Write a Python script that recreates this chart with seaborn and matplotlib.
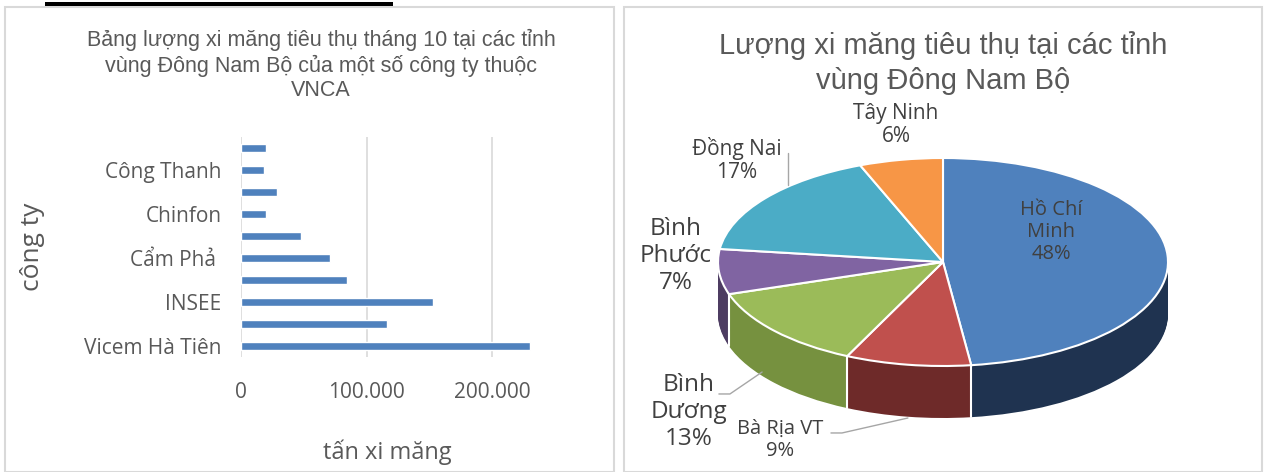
import numpy as np
import matplotlib
matplotlib.use("Agg")
import matplotlib.pyplot as plt
import seaborn as sns
from matplotlib.patches import Rectangle
from matplotlib.ticker import FuncFormatter

# bar chart data (top -> bottom); only every other name is shown on the axis
companies = ["Thăng Long", "Công Thanh", "Bỉm Sơn", "Chinfon", "Hạ Long",
             "Cẩm Phả ", "Fico Tây Ninh", "INSEE", "Nghi Sơn", "Vicem Hà Tiên"]
tons = [20000, 18000, 29000, 20000, 48000, 71000, 84000, 153000, 116000, 230000]

# pie chart data (clockwise from 12 o'clock)
provinces = ["Hồ Chí\nMinh", "Bà Rịa VT", "Bình\nDương", "Bình\nPhước", "Đồng Nai", "Tây Ninh"]
shares = [48, 9, 13, 7, 17, 6]

top_colors = ["#4f81bd", "#c0504d", "#9bbb59", "#8064a2", "#4bacc6", "#f79646"]
side_colors = ["#1f3350", "#6e2a29", "#76913f", "#4d3c62", "#2d6877", "#94592a"]
text_gray = "#595959"

sns.set_theme(style="white")
plt.rcParams["font.family"] = ["Open Sans", "DejaVu Sans"]

W, H = 1264, 472
fig = plt.figure(figsize=(W / 100, H / 100), dpi=100)
fig.patch.set_facecolor("white")

# panel frames and the cut-off black line at the very top
fig.patches.append(Rectangle((5 / W, 0), 609 / W, 1 - 7 / H, transform=fig.transFigure,
                             fill=False, edgecolor="#d9d9d9", linewidth=1.5))
fig.patches.append(Rectangle((624 / W, 0), 638 / W, 1 - 7 / H, transform=fig.transFigure,
                             fill=False, edgecolor="#d9d9d9", linewidth=1.5))
fig.patches.append(Rectangle((45 / W, 1 - 6 / H), 348 / W, 4 / H, transform=fig.transFigure,
                             facecolor="black", edgecolor="none"))

# ---------- left: horizontal bars ----------
ax1 = fig.add_axes([241 / W, 1 - 357 / H, 314 / W, 220 / H])
sns.barplot(x=tons, y=companies, orient="h", color=top_colors[0], width=0.36,
            saturation=1, ax=ax1)
ax1.set_xlim(0, 250000)
ax1.set_xticks([0, 100000, 200000])
ax1.xaxis.set_major_formatter(FuncFormatter(lambda v, p: f"{int(v):,}".replace(",", ".")))
ax1.xaxis.grid(True, color="#d9d9d9", linewidth=1.2)
ax1.set_axisbelow(True)
for s in ax1.spines.values():
    s.set_visible(False)
ax1.tick_params(axis="both", length=0, colors=text_gray, labelsize=15)
ax1.tick_params(axis="y", pad=14)
ax1.tick_params(axis="x", pad=18)
for i, lbl in enumerate(ax1.get_yticklabels()):
    lbl.set_visible(i % 2 == 1)
ax1.set_xlabel("tấn xi măng", fontsize=17, color=text_gray)
ax1.set_ylabel("công ty", fontsize=19, color=text_gray)
ax1.xaxis.set_label_coords(0.465, -0.377)
ax1.yaxis.set_label_coords(-0.624, 0.5)

fig.text(321 / W, 1 - 65 / H,
         "Bảng lượng xi măng tiêu thụ tháng 10 tại các tỉnh\nvùng Đông Nam Bộ của một số công ty thuộc\nVNCA",
         ha="center", va="center", fontsize=15.5, color=text_gray, linespacing=1.2,
         family=["Liberation Sans", "DejaVu Sans"])

# ---------- right: 3D-looking pie ----------
ax2 = fig.add_axes([700 / W, 1 - 440 / H, 486 / W, 320 / H])
depth = 0.5
for off in np.linspace(-depth, 0, 50, endpoint=False):
    ax2.pie(shares, colors=side_colors, startangle=90, counterclock=False,
            center=(0, off), wedgeprops=dict(linewidth=0))
ax2.pie(shares, colors=top_colors, startangle=90, counterclock=False,
        wedgeprops=dict(edgecolor="white", linewidth=1.5))

# white seams on the side wall at slice borders
cum = np.cumsum([0] + shares) / 100
theta = np.deg2rad(90 - 360 * cum)
for t in theta:
    if np.sin(t) < -0.05:
        ax2.plot([np.cos(t)] * 2, [np.sin(t), np.sin(t) - depth], color="white", lw=1.5)

ax2.set_aspect("auto")
ax2.set_xlim(-243 / 225, 243 / 225)
ax2.set_ylim(-178 / 104, 142 / 104)
ax2.axis("off")

label_pos = [(0.48, 0.288), (-0.724, -1.712), (-1.129, -1.442),
             (-1.187, 0.058), (-0.916, 0.981), (-0.209, 1.317)]
label_size = [14.5, 14.5, 17.5, 17.5, 15, 15]
for name, sh, (lx, ly), fs in zip(provinces, shares, label_pos, label_size):
    ax2.text(lx, ly, f"{name}\n{sh}%", ha="center", va="center", fontsize=fs,
             color="#404040", linespacing=1.15, clip_on=False)

# leader lines
lead = "#a6a6a6"
ax2.plot([-0.689, -0.689], [1.048, 0.740], color=lead, lw=1, clip_on=False)
ax2.plot([-0.996, -0.947, -0.804], [-1.269, -1.269, -1.058], color=lead, lw=1, clip_on=False)
ax2.plot([-0.498, -0.449, -0.156], [-1.644, -1.644, -1.5], color=lead, lw=1, clip_on=False)

fig.text(943 / W, 1 - 63 / H, "Lượng xi măng tiêu thụ tại các tỉnh\nvùng Đông Nam Bộ",
         ha="center", va="center", fontsize=21, color=text_gray, linespacing=1.3,
         family=["Liberation Sans", "DejaVu Sans"])

fig.savefig("out.png", dpi=100, facecolor="white")
